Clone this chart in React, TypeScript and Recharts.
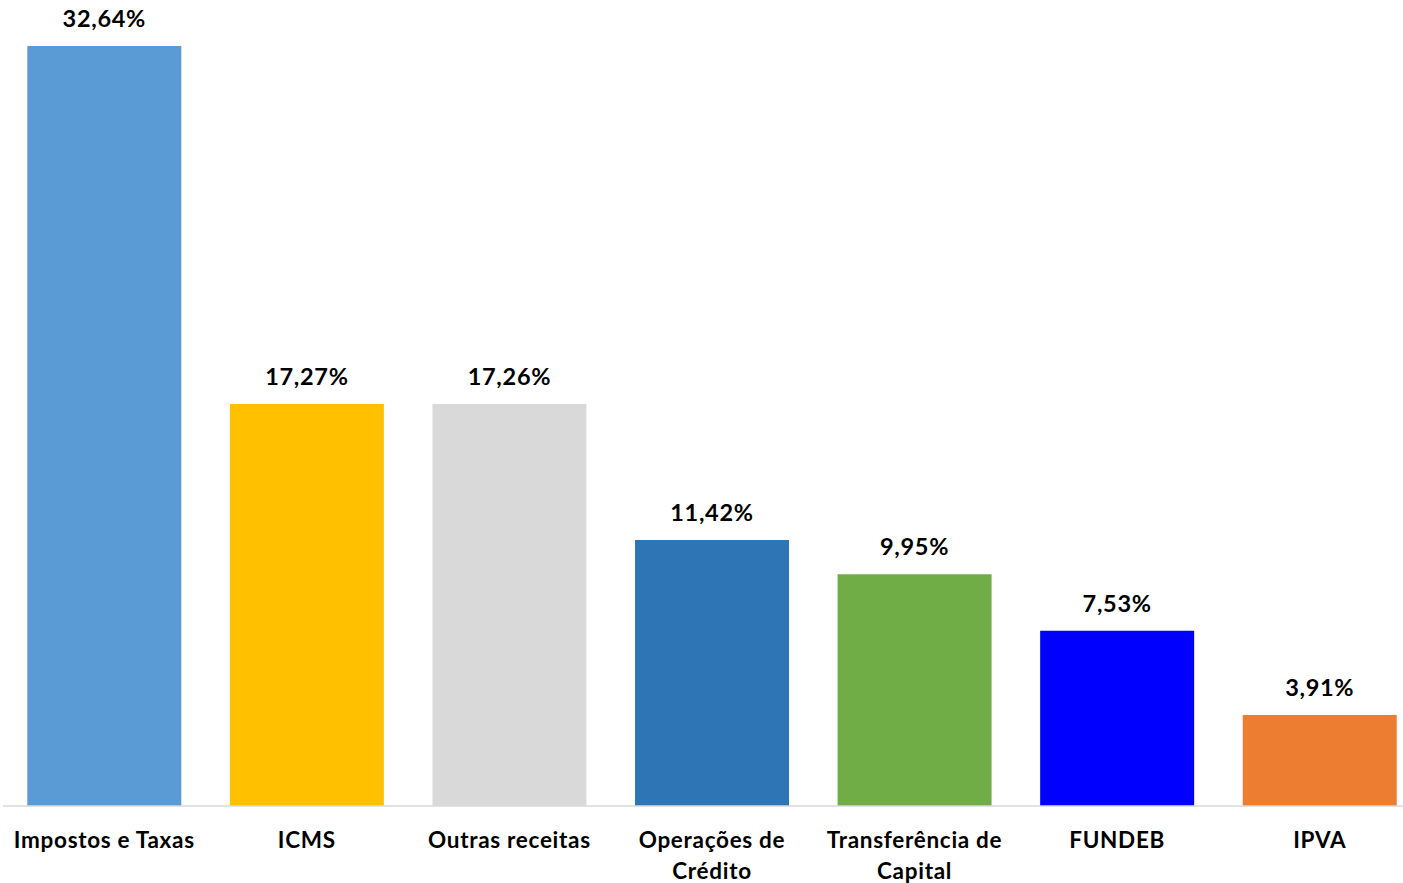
import React from "react";
import { BarChart, Bar, XAxis, YAxis, Cell, LabelList } from "recharts";

const categories = [
  "Impostos e Taxas",
  "ICMS",
  "Outras receitas",
  "Operações de Crédito",
  "Transferência de Capital",
  "FUNDEB",
  "IPVA",
];
const shares = [32.64, 17.27, 17.26, 11.42, 9.95, 7.53, 3.91];
const barColors = ["#5B9BD5", "#FFC000", "#D9D9D9", "#2E75B6", "#70AD47", "#0000FF", "#ED7D31"];

const data = categories.map((name, i) => ({ name, value: shares[i] }));

const FONT = "Lato, 'Open Sans', sans-serif";

// wrap long category names on the last space, like Excel does
function splitLabel(label: string): string[] {
  if (label.length <= 16) return [label];
  const idx = label.lastIndexOf(" ");
  return [label.slice(0, idx), label.slice(idx + 1)];
}

function CategoryTick(props: any) {
  const { x, y, payload } = props;
  const lines = splitLabel(payload.value);
  return (
    <text
      x={x}
      y={y}
      textAnchor="middle"
      fill="#000"
      fontFamily={FONT}
      fontWeight={700}
      fontSize={22.5}
      letterSpacing={0.7}
    >
      {lines.map((line, i) => (
        <tspan key={i} x={x} dy={i === 0 ? 34 : 31}>
          {line}
        </tspan>
      ))}
    </text>
  );
}

const fmt = (v: any) => Number(v).toFixed(2).replace(".", ",") + "%";

export default function App() {
  return (
    <div
      style={{
        position: "absolute",
        left: 0,
        top: 0,
        width: 1403,
        height: 883,
        overflow: "hidden",
        background: "#fff",
      }}
    >
      <BarChart
        width={1421}
        height={883}
        data={data}
        margin={{ top: 46, right: 0, bottom: 0, left: 3 }}
        barCategoryGap="12%"
      >
        <XAxis
          dataKey="name"
          height={77}
          interval={0}
          tickLine={false}
          axisLine={{ stroke: "#D9D9D9", strokeWidth: 1.5 }}
          tick={<CategoryTick />}
        />
        <YAxis hide domain={[0, "dataMax"]} />
        <Bar dataKey="value" isAnimationActive={false}>
          {data.map((d, i) => (
            <Cell key={d.name} fill={barColors[i]} />
          ))}
          <LabelList
            dataKey="value"
            position="top"
            offset={19}
            formatter={fmt}
            fill="#000"
            fontFamily={FONT}
            fontWeight={700}
            fontSize={23.5}
            letterSpacing={0.7}
          />
        </Bar>
      </BarChart>
    </div>
  );
}
